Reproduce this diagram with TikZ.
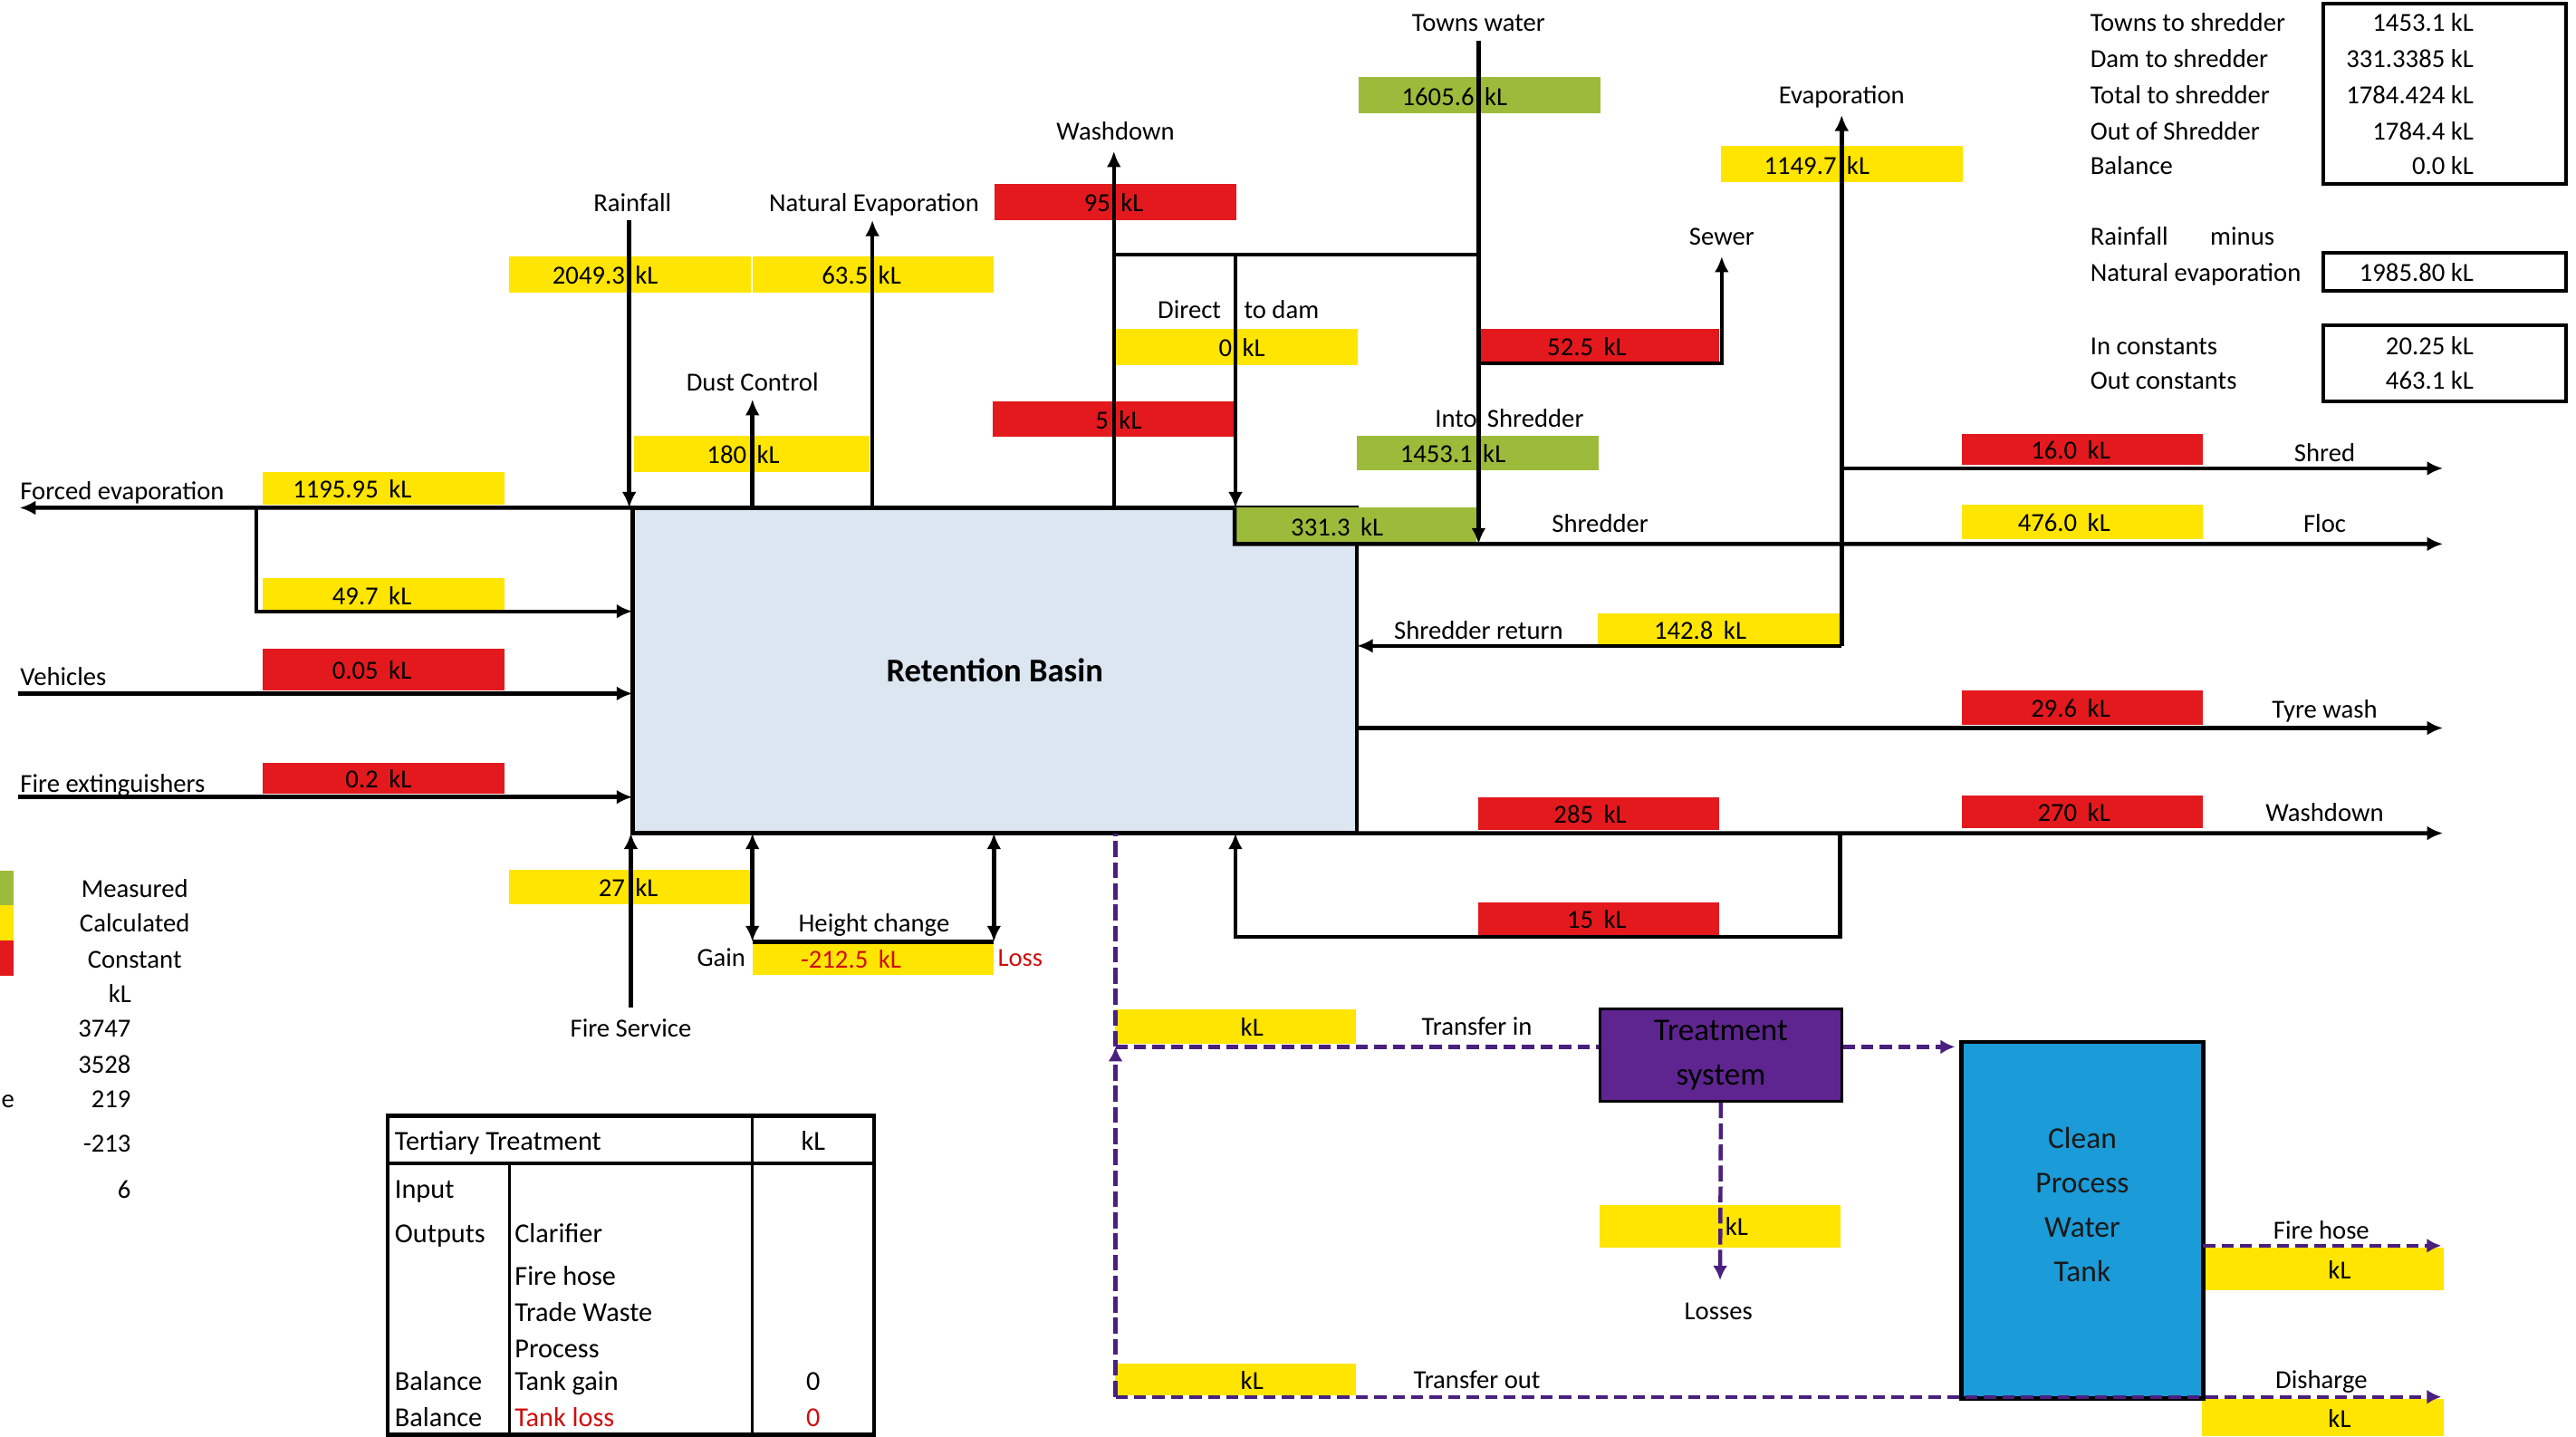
\documentclass[tikz,border=0pt]{standalone}
\usepackage{fontspec}
\setmainfont{Carlito}
\usetikzlibrary{arrows.meta}
\definecolor{measgreen}{HTML}{9DBB3A}
\definecolor{calcyellow}{HTML}{FFE500}
\definecolor{constred}{HTML}{E3191E}
\definecolor{basinblue}{HTML}{DCE6F1}
\definecolor{tankblue}{HTML}{1B9BD7}
\definecolor{tpurple}{HTML}{4A1F7E}
\definecolor{treatfill}{HTML}{5E2590}
\definecolor{lossred}{HTML}{D00E0E}
\newcommand{\kl}[1]{\makebox[0pt][r]{#1\hspace{1.8pt}}\makebox[0pt][l]{\hspace{1.8pt}kL}}

\begin{document}
\begin{tikzpicture}[x=0.2mm,y=-0.2mm,>=Latex,
  lab/.style={font=\fontsize{9}{10.8}\selectfont,inner sep=0pt,text height=8pt,text depth=1.2pt},
  tab/.style={font=\fontsize{9.5}{11}\selectfont,inner sep=0pt,text height=8.2pt,text depth=1.3pt},
  vbox/.style={lab,minimum width=29.4mm,minimum height=4.2mm,outer sep=0pt},
  mbox/.style={vbox,fill=measgreen},
  cbox/.style={vbox,fill=calcyellow},
  kbox/.style={vbox,fill=constred},
  arr/.style={-{Latex[length=5.5pt,width=5pt]},line width=1.4pt},
  pipe/.style={line width=1.4pt},
  darr/.style={{Latex[length=5.5pt,width=5pt]}-{Latex[length=5.5pt,width=5pt]},line width=1.4pt},
  tdash/.style={line width=1.4pt,tpurple,dash pattern=on 4.2pt off 2.2pt},
  tlong/.style={line width=1.4pt,tpurple,dash pattern=on 5.5pt off 1.8pt},
  tarr/.style={-{Latex[length=5pt,width=5pt]}}]
\useasboundingbox (0,0) rectangle (1568,874);

\node[draw,pipe,fill=basinblue,minimum width=88.2mm,minimum height=39.6mm,inner sep=0pt,outer sep=0pt,
  font=\fontsize{11.5}{13}\selectfont\bfseries] (basin) at (605.5,408) {Retention Basin};

\node[mbox,minimum height=4.4mm] (twater) at (900.5,58) {\kl{1605.6}};
\node[mbox] (into) at (899.5,275.5) {\kl{1453.1}};
\node[mbox,minimum height=4.4mm] (dshr) at (825,320) {\kl{331.3}};

\node[cbox,minimum height=4.4mm] (rain) at (383.5,167) {\kl{2049.3}};
\node[cbox,minimum height=4.4mm] (nevap) at (531.5,167) {\kl{63.5}};
\node[cbox,minimum width=28.6mm,minimum height=4.4mm] (dust) at (457.5,276) {\kl{180}};
\node[cbox,minimum height=4mm] (fevap) at (233.5,297) {\kl{1195.95}};
\node[cbox,minimum height=4mm] (fevin) at (233.5,362) {\kl{49.7}};
\node[cbox,minimum height=4.4mm] (direct) at (753,211) {\kl{0}};
\node[cbox,minimum height=4.4mm] (evap) at (1121,100) {\kl{1149.7}};
\node[cbox,minimum height=4mm] (sret) at (1046,383) {\kl{142.8}};
\node[cbox] (floc) at (1267.5,317.5) {\kl{476.0}};
\node[cbox] (fserv) at (383.5,539.5) {\kl{27}};
\node[cbox,minimum height=4mm,text=lossred] (hchg) at (531.5,583) {\kl{-212.5}};
\node[cbox] (tin) at (752,624.5) {\kl{}};
\node[cbox,minimum height=3.8mm] (tout) at (752,839.5) {\kl{}};
\node[cbox,minimum height=5.2mm] (loss) at (1047,746) {\kl{}};
\node[cbox,minimum height=5.2mm] (fhose) at (1414,772) {\kl{}};
\node[cbox,minimum height=4.6mm] (disch) at (1414,862.5) {\kl{}};

\node[kbox,minimum height=4.4mm] (w95) at (679,123) {\kl{95}};
\node[kbox,minimum height=4.4mm] (w5) at (678,255) {\kl{5}};
\node[kbox] (sewer) at (973,210.5) {\kl{52.5}};
\node[kbox,minimum height=5mm] (veh) at (233.5,407.5) {\kl{0.05}};
\node[kbox,minimum height=3.8mm] (fext) at (233.5,473.5) {\kl{0.2}};
\node[kbox,minimum height=3.8mm] (shred) at (1267.5,273.5) {\kl{16.0}};
\node[kbox] (tyre) at (1267.5,430.5) {\kl{29.6}};
\node[kbox,minimum height=4mm] (w270) at (1267.5,494) {\kl{270}};
\node[kbox,minimum height=4mm] (w285) at (973,495) {\kl{285}};
\node[kbox,minimum height=4mm] (r15) at (973,559) {\kl{15}};

\node[draw,line width=0.8pt,fill=treatfill,minimum width=29.4mm,minimum height=11.2mm,inner sep=0pt,
  align=center,text=black,font=\fontsize{11}{15.4}\selectfont] (treat) at (1047.5,642) {Treatment\\system};
\node[draw,pipe,fill=tankblue,minimum width=29.4mm,minimum height=43.4mm,inner sep=0pt,outer sep=0pt] (tank) at (1267.5,742.5) {};
\node[align=center,inner sep=0pt,text=black!90,font=\fontsize{10.5}{15.4}\selectfont] (tanktxt) at (1267.5,733) {Clean\\Process\\Water\\Tank};

\coordinate (fe) at (12,309);
\coordinate (fsplit) at (156,309);
\coordinate (veh0) at (11,422);
\coordinate (fext0) at (11,485);
\coordinate (rain0) at (383,134);
\coordinate (nevap0) at (531,134);
\coordinate (dust0) at (458,243);
\coordinate (wash0) at (678,92);
\coordinate (tw0) at (900,25);
\coordinate (tee) at (900,155);
\coordinate (dd0) at (752,155);
\coordinate (sewer0) at (1048,156);
\coordinate (ev0) at (1121,70);
\coordinate (shredend) at (1487,285);
\coordinate (flocend) at (1487,331);
\coordinate (tyreend) at (1487,443);
\coordinate (washend) at (1487,507);
\coordinate (loopc) at (1120,570);
\coordinate (fs0) at (384,613);
\coordinate (tjoin) at (679,637);
\coordinate (tbot) at (679,850);
\coordinate (tinend) at (1190,637);
\coordinate (lossend) at (1047,779);
\coordinate (fhend) at (1486,758);
\coordinate (dischend) at (1486,850);

\draw[arr] (basin.north west) -- (fe);
\draw[arr] (fsplit) |- (fevin.south -| basin.west);
\draw[arr] (veh0) -- (veh0 -| basin.west);
\draw[arr] (fext0) -- (fext0 -| basin.west);
\draw[arr] (rain0) -- (rain0 |- basin.north);
\draw[arr] (nevap0 |- basin.north) -- (nevap0);
\draw[arr] (dust0 |- basin.north) -- (dust0);
\draw[arr] (wash0 |- basin.north) -- (wash0);
\draw[pipe] (tee -| wash0) -- (tee);
\draw[arr] (dd0) -- (dd0 |- basin.north);
\draw[arr] (tw0) -- (tw0 |- dshr.south);
\draw[arr] (tw0 |- sewer.south) -| (sewer0);
\draw[arr] (dshr.north west) -- (dshr.south west) -- (flocend);
\draw[arr] (ev0 |- sret.south) -- (ev0);
\draw[arr] (ev0 |- sret.south) -- (sret.south -| basin.east);
\draw[arr] (ev0 |- shredend) -- (shredend);
\draw[arr] (tyreend -| basin.east) -- (tyreend);
\draw[arr] (basin.south east) -- (washend);
\draw[arr] (loopc |- basin.south) -- (loopc) -- (loopc -| dd0) -- (dd0 |- basin.south);
\draw[arr] (fs0) -- (fs0 |- basin.south);
\draw[darr] (hchg.north west |- basin.south) -- (hchg.north west);
\draw[darr] (hchg.north east |- basin.south) -- (hchg.north east);
\draw[pipe] (hchg.north west) -- (hchg.north east);

\draw[tlong] (tjoin) -- (tjoin |- basin.south);
\draw[tlong,tarr] (tbot) -- (tjoin);
\draw[tdash] (tjoin) -- (tjoin -| treat.west);
\draw[tdash,tarr] (tjoin -| treat.east) -- (tinend);
\draw[tlong,tarr] (treat.south) -- (lossend);
\draw[tdash,tarr] (fhend -| tank.east) -- (fhend);
\draw[tdash,tarr] (tbot) -- (dischend);

\node[lab] (ltw) at (900,13) {Towns water};
\node[lab] (lwash) at (679,79) {Washdown};
\node[lab] (levap) at (1121,57) {Evaporation};
\node[lab] (lrain) at (385,123) {Rainfall};
\node[lab] (lnevap) at (532,123) {Natural Evaporation};
\node[lab] (lsewer) at (1048,143) {Sewer};
\node[lab] (ldirect) at (752,188) {\makebox[0pt][r]{Direct\hspace{5pt}}\makebox[0pt][l]{\hspace{3pt}to dam}};
\node[lab] (linto) at (900,254) {\makebox[0pt][r]{Into\hspace{0.5pt}}\makebox[0pt][l]{\hspace{3pt}Shredder}};
\node[lab] (ldust) at (458,232) {Dust Control};
\node[lab,anchor=west] (lforced) at (12,298) {Forced evaporation};
\node[lab,anchor=west] (lveh) at (12,411) {Vehicles};
\node[lab,anchor=west] (lfext) at (12,476) {Fire extinguishers};
\node[lab] (lshr) at (974,318) {Shredder};
\node[lab] (lsret) at (900,383) {Shredder return};
\node[lab] (lshred) at (1415,275) {Shred};
\node[lab] (lfloc) at (1415,318) {Floc};
\node[lab] (ltyre) at (1415,431) {Tyre wash};
\node[lab] (lwashout) at (1415,494) {Washdown};
\node[lab] (lheight) at (532,561) {Height change};
\node[lab] (lgain) at (439,582) {Gain};
\node[lab,text=lossred] (lloss) at (621,582) {Loss};
\node[lab] (lfserv) at (384,625) {Fire Service};
\node[lab] (ltin) at (899,624) {Transfer in};
\node[lab] (ltout) at (899,839) {Transfer out};
\node[lab] (llosses) at (1046,797) {Losses};
\node[lab] (lfhose) at (1413,748) {Fire hose};
\node[lab] (ldisch) at (1413,839) {Disharge};

\fill[measgreen] (0,530) rectangle (8,551);
\fill[calcyellow] (0,551) rectangle (8,572);
\fill[constred] (0,572) rectangle (8,594);
\node[lab] (kmeas) at (82,540) {Measured};
\node[lab] (kcalc) at (82,561) {Calculated};
\node[lab] (kconst) at (82,583) {Constant};
\node[lab] (kunit) at (73,604) {kL};
\node[lab,anchor=east] (ka) at (80,625) {3747};
\node[lab,anchor=east] (kb) at (80,647) {3528};
\node[lab,anchor=east] (kc) at (80,668) {219};
\node[lab,anchor=west] (kcut) at (0.5,668) {e};
\node[lab,anchor=east] (kd) at (80,695) {-213};
\node[lab,anchor=east] (ke) at (80,723) {6};

\draw[line width=1.3pt] (1414,2) rectangle (1562,112);
\node[lab,anchor=west] (pa) at (1272,13) {Towns to shredder};
\node[lab,anchor=west] (pb) at (1272,35) {Dam to shredder};
\node[lab,anchor=west] (pc) at (1272,57) {Total to shredder};
\node[lab,anchor=west] (pd) at (1272,79) {Out of Shredder};
\node[lab,anchor=west] (pe) at (1272,100) {Balance};
\node[lab,anchor=east] (va) at (1506,13) {1453.1 kL};
\node[lab,anchor=east] (vb) at (1506,35) {331.3385 kL};
\node[lab,anchor=east] (vc) at (1506,57) {1784.424 kL};
\node[lab,anchor=east] (vd) at (1506,79) {1784.4 kL};
\node[lab,anchor=east] (ve) at (1506,100) {0.0 kL};

\draw[line width=1.3pt] (1414,154) rectangle (1562,177);
\node[lab,anchor=west] (pf) at (1272,143) {Rainfall};
\node[lab,anchor=west] (pg) at (1345,143) {minus};
\node[lab,anchor=west] (ph) at (1272,165) {Natural evaporation};
\node[lab,anchor=east] (vh) at (1506,165) {1985.80 kL};

\draw[line width=1.3pt] (1414,198) rectangle (1562,244);
\node[lab,anchor=west] (pi) at (1272,210) {In constants};
\node[lab,anchor=west] (pj) at (1272,231) {Out constants};
\node[lab,anchor=east] (vi) at (1506,210) {20.25 kL};
\node[lab,anchor=east] (vj) at (1506,231) {463.1 kL};

\draw[line width=1.4pt] (236,679) rectangle (532,873);
\draw[line width=1.4pt] (236,708) -- (532,708);
\draw[line width=0.9pt] (310,708) -- (310,873);
\draw[line width=1.1pt] (458,679) -- (458,873);
\node[tab,anchor=west] (ta) at (240,694) {Tertiary Treatment};
\node[tab] (tb) at (495,694) {kL};
\node[tab,anchor=west] (tc) at (240,723) {Input};
\node[tab,anchor=west] (td) at (240,750) {Outputs};
\node[tab,anchor=west] (te) at (313,750) {Clarifier};
\node[tab,anchor=west] (tf) at (313,776) {Fire hose};
\node[tab,anchor=west] (tg) at (313,798) {Trade Waste};
\node[tab,anchor=west] (th) at (313,820) {Process};
\node[tab,anchor=west] (ti) at (240,840) {Balance};
\node[tab,anchor=west] (tj) at (313,840) {Tank gain};
\node[tab] (tk) at (495,840) {0};
\node[tab,anchor=west] (tl) at (240,862) {Balance};
\node[tab,anchor=west,text=lossred] (tm) at (313,862) {Tank loss};
\node[tab,text=lossred] (tn) at (495,862) {0};
\end{tikzpicture}
\end{document}
